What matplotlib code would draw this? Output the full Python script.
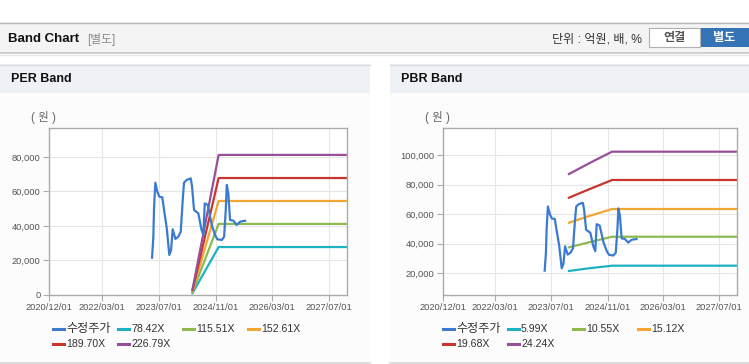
import matplotlib
matplotlib.use("Agg")
import matplotlib.pyplot as plt
import matplotlib.dates as mdates
from matplotlib.patches import Rectangle
from matplotlib.lines import Line2D
import pandas as pd

plt.rcParams['font.family'] = ['Liberation Sans', 'Noto Sans CJK KR']

# adjusted close price (수정주가)
price_dates = ['2023-05-04', '2023-05-15', '2023-05-21', '2023-06-01', '2023-06-18', '2023-07-05',
               '2023-07-31', '2023-08-17', '2023-09-07', '2023-09-29', '2023-10-14', '2023-10-28',
               '2023-11-20', '2023-12-15', '2024-01-05', '2024-01-22', '2024-02-02', '2024-02-25',
               '2024-03-31', '2024-04-11', '2024-04-28', '2024-06-04', '2024-06-30', '2024-07-17',
               '2024-07-29', '2024-08-24', '2024-09-27', '2024-10-25', '2024-11-14', '2024-12-22',
               '2025-01-11', '2025-01-25', '2025-02-03', '2025-02-16', '2025-03-03', '2025-03-31',
               '2025-04-29', '2025-05-28', '2025-06-25', '2025-07-10']
price = [21600, 33800, 50400, 65100, 59900, 57000,
         56600, 48300, 38700, 23200, 26100, 38100,
         32500, 33800, 36700, 55100, 65100, 66700,
         67600, 62800, 49300, 47300, 38100, 34800,
         53100, 52200, 40600, 34800, 32300, 31900,
         33800, 49300, 63800, 59000, 43500, 43100,
         40600, 42500, 42900, 43000]

# PER band
per_dates = ['2024-04-15', '2024-11-25', '2027-12-31']
per_labels = ['78.42X', '115.51X', '152.61X', '189.70X', '226.79X']
per_78 = [1100, 27800, 27800]
per_115 = [1700, 41200, 41200]
per_152 = [2200, 54500, 54500]
per_189 = [2800, 67800, 67800]
per_226 = [3300, 81200, 81200]

# PBR band
pbr_dates = ['2023-12-01', '2024-06-01', '2024-12-10', '2027-12-31']
pbr_labels = ['5.99X', '10.55X', '15.12X', '19.68X', '24.24X']
pbr_5 = [21400, 23300, 24960, 24960]
pbr_10 = [37400, 41000, 44600, 44600]
pbr_15 = [54100, 58800, 63400, 63400]
pbr_19 = [71070, 77000, 83070, 83070]
pbr_24 = [87100, 94700, 102250, 102250]

xticks = ['2020-12-01', '2022-03-01', '2023-07-01', '2024-11-01', '2026-03-01', '2027-07-01']
band_colors = ['#1db2c2', '#8cba4e', '#f2a634', '#c9352e', '#984f98']
price_color = '#3a7bd0'

W, H = 749, 364
fig = plt.figure(figsize=(W / 100, H / 100), dpi=100)


def rect(x0, y0, x1, y1):
    return [x0 / W, 1 - y1 / H, (x1 - x0) / W, (y1 - y0) / H]


def box(x0, y0, x1, y1, fc, ec='none', lw=0):
    fig.patches.append(Rectangle((x0 / W, 1 - y1 / H), (x1 - x0) / W, (y1 - y0) / H,
                                 transform=fig.transFigure, fc=fc, ec=ec, lw=lw, zorder=-2))


def ftext(x, y, s, **kw):
    fig.text(x / W, 1 - y / H, s, va='center', **kw)


def hline(x0, x1, y, color, lw):
    fig.add_artist(Line2D([x0 / W, x1 / W], [1 - y / H, 1 - y / H], color=color, lw=lw,
                          transform=fig.transFigure, zorder=-1))


# top header bar
box(0, 22, W, 53, '#f4f4f4')
hline(0, W, 22.5, '#b8b8b8', 1.0)
hline(0, W, 53, '#c8c8c8', 1.2)
hline(0, W, 54.5, '#e6e6e6', 1.0)
ftext(8, 39, 'Band Chart', fontsize=9.5, fontweight='bold', color='#111')
ftext(87, 39, '[별도]', fontsize=8.5, color='#8a8a8a')
ftext(552, 39, '단위 : 억원, 배, %', fontsize=8.7, color='#333')
fig.patches.append(Rectangle((649 / W, 1 - 47 / H), 51 / W, 19 / H, transform=fig.transFigure,
                             fc='white', ec='#b0b0b0', lw=0.8))
box(700, 28, W, 47, '#3474b6')
ftext(674, 37.5, '연결', fontsize=8.7, fontweight='bold', color='#555', ha='center')
ftext(724, 37.5, '별도', fontsize=8.7, fontweight='bold', color='white', ha='center')

# panels
for x0, x1, title in [(0, 370, 'PER Band'), (390, W, 'PBR Band')]:
    box(x0, 64, x1, 93, '#eef1f6')
    box(x0, 93, x1, 362, '#fcfcfc')
    hline(x0, x1, 64.5, '#dcdcdc', 1.0)
    hline(x0, x1, 362.5, '#d6d6d6', 1.2)
    ftext(x0 + 11, 79, title, fontsize=9, fontweight='bold', color='#111')


def setup(ax, ylim, yticks):
    ax.set_zorder(3)
    ax.set_facecolor('white')
    ax.set_xlim(pd.Timestamp('2020-12-01'), pd.Timestamp('2027-12-01'))
    ax.set_ylim(*ylim)
    ax.set_xticks(pd.to_datetime(xticks))
    ax.xaxis.set_major_formatter(mdates.DateFormatter('%Y/%m/%d'))
    ax.set_yticks(yticks)
    ax.set_yticklabels([f'{v:,}' for v in yticks])
    ax.grid(True, color='#e6e6e6', lw=0.8)
    ax.set_axisbelow(True)
    for s in ax.spines.values():
        s.set_color('#ababab')
        s.set_linewidth(1.0)
    ax.tick_params(axis='both', colors='#ababab', labelcolor='#555', labelsize=6.7,
                   length=4, width=0.8, pad=2)


def legend(x0, labels):
    items = ['수정주가'] + labels
    colors = [price_color] + band_colors
    for i, (lab, c) in enumerate(zip(items, colors)):
        col, row = i % 4, i // 4
        x = x0 + col * 65
        y = 329 + row * 15
        hline(x, x + 11, y, c, 2.2)
        size = 8.7 if i == 0 else 7.6
        ftext(x + 13, y, lab, fontsize=size, color='#333')


# PER chart
ax1 = fig.add_axes(rect(49, 128, 347, 295))
setup(ax1, (0, 96800), [0, 20000, 40000, 60000, 80000])
pd_per = pd.to_datetime(per_dates)
for vals, c in zip([per_78, per_115, per_152, per_189, per_226], band_colors):
    ax1.plot(pd_per, vals, color=c, lw=1.6, solid_joinstyle='round')
ax1.plot(pd.to_datetime(price_dates), price, color=price_color, lw=1.6, zorder=5)
ftext(43, 117, '( 원 )', fontsize=8.3, color='#666', ha='center')
legend(53, per_labels)

# PBR chart
ax2 = fig.add_axes(rect(443, 128, 737, 295))
setup(ax2, (5100, 118300), [20000, 40000, 60000, 80000, 100000])
pd_pbr = pd.to_datetime(pbr_dates)
for vals, c in zip([pbr_5, pbr_10, pbr_15, pbr_19, pbr_24], band_colors):
    ax2.plot(pd_pbr, vals, color=c, lw=1.6, solid_joinstyle='round')
ax2.plot(pd.to_datetime(price_dates), price, color=price_color, lw=1.6, zorder=5)
ftext(437, 117, '( 원 )', fontsize=8.3, color='#666', ha='center')
legend(443, pbr_labels)

fig.savefig('out.png', dpi=100, facecolor='white')
